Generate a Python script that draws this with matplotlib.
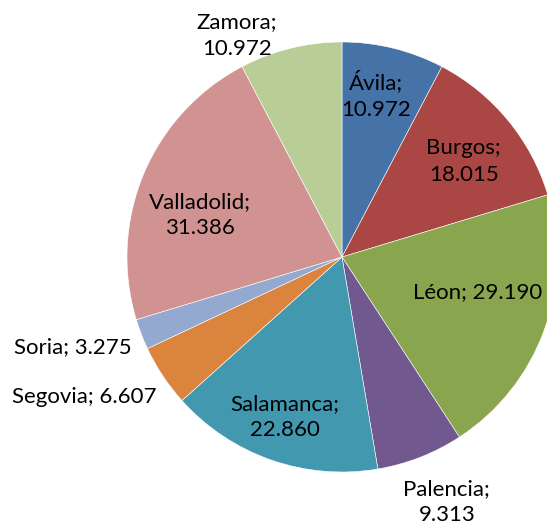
import numpy as np
import matplotlib
matplotlib.use("Agg")
import matplotlib.pyplot as plt

# provincias de Castilla y León
provincias = ["Ávila", "Burgos", "Léon", "Palencia", "Salamanca",
              "Segovia", "Soria", "Valladolid", "Zamora"]
valores = [10.972, 18.015, 29.190, 9.313, 22.860, 6.607, 3.275, 31.386, 10.972]
textos = ["Ávila;\n10.972", "Burgos;\n18.015", "Léon; 29.190", "Palencia;\n9.313",
          "Salamanca;\n22.860", "Segovia; 6.607", "Soria; 3.275",
          "Valladolid;\n31.386", "Zamora;\n10.972"]

colores = ["#4572A7", "#AA4643", "#89A54E", "#71588F", "#4198AF",
           "#DB843D", "#93A9CF", "#D19392", "#B9CD96"]
# label placement (fraction of radius, angle nudge in degrees)
dist = [0.77, 0.72, 0.65, 1.24, 0.79, 1.365, 1.32, 0.69, 1.14]
nudge = [2, -1.4, 5.5, 1.8, -0.5, -5, -2.6, 6.2, 11.5]

W, H = 547, 526
fig = plt.figure(figsize=(W / 100, H / 100), dpi=100)
ax = fig.add_axes([0, 0, 1, 1])

cx, cy, r = 342, H - 257, 215
wedges, _ = ax.pie(valores, colors=colores, startangle=90, counterclock=False,
                   radius=r, center=(cx, cy),
                   wedgeprops=dict(edgecolor="white", linewidth=0.4))

for w, t, d, n in zip(wedges, textos, dist, nudge):
    ang = np.deg2rad((w.theta1 + w.theta2) / 2 + n)
    ax.text(cx + d * r * np.cos(ang), cy + d * r * np.sin(ang), t,
            ha="center", va="center", fontsize=16, family=["Lato", "DejaVu Sans"],
            color="black", linespacing=1.4)

ax.set_xlim(0, W)
ax.set_ylim(0, H)
ax.set_aspect("equal")
ax.axis("off")

fig.savefig("out.png", dpi=100)
